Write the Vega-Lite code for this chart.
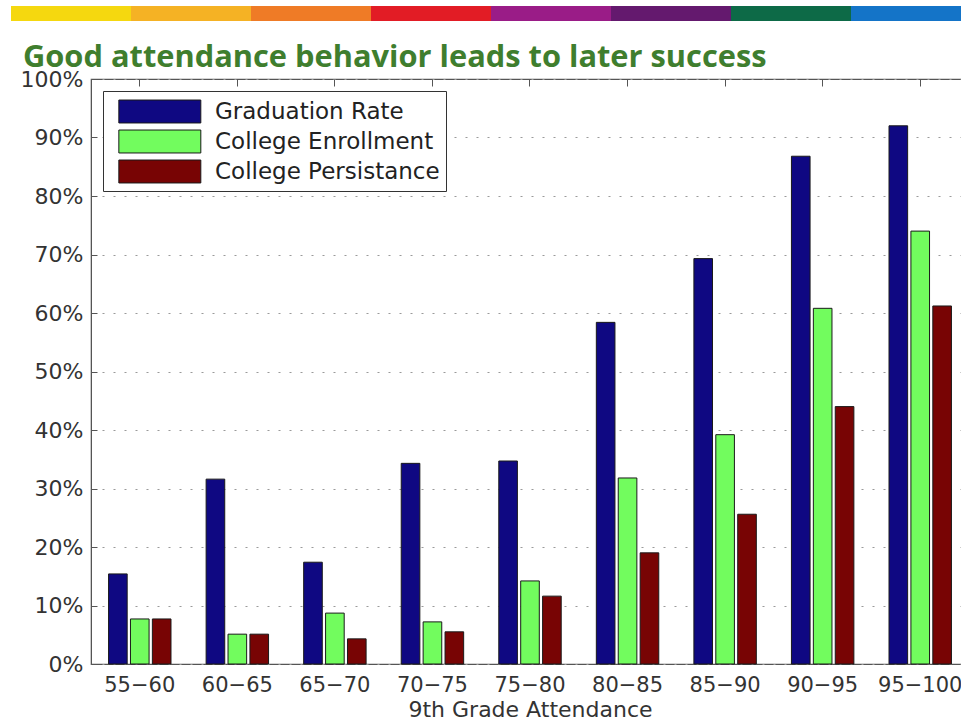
{
  "$schema": "https://vega.github.io/schema/vega-lite/v6.json",
  "background": "white",
  "padding": {"left": 11, "top": 6, "right": 0, "bottom": 0},
  "autosize": {"type": "pad"},
  "columns": 1,
  "align": "none",
  "spacing": 20,
  "resolve": {"legend": {"color": "independent"}, "scale": {"color": "independent", "x": "independent"}},
  "config": {
    "font": "DejaVu Sans",
    "axis": {"labelFont": "DejaVu Sans", "labelColor": "#333333", "titleFont": "DejaVu Sans", "titleColor": "#333333", "titleFontWeight": "normal", "domainColor": "#555555", "tickColor": "#555555"},
    "legend": {"labelFont": "DejaVu Sans"}
  },
  "concat": [
    {
      "width": 870,
      "height": 15,
      "view": {"stroke": null},
      "data": {
        "values": [
          {"band": 1, "color": "#f5d80f"},
          {"band": 2, "color": "#f5b224"},
          {"band": 3, "color": "#ef7b26"},
          {"band": 4, "color": "#e21c25"},
          {"band": 5, "color": "#9a1c87"},
          {"band": 6, "color": "#64196e"},
          {"band": 7, "color": "#0d6a47"},
          {"band": 8, "color": "#1474c8"}
        ]
      },
      "mark": {"type": "rect", "clip": false},
      "encoding": {
        "x": {"field": "band", "type": "ordinal", "axis": null, "scale": {"range": [-80, 880], "paddingInner": 0, "paddingOuter": 0}},
        "color": {"field": "color", "type": "nominal", "scale": null, "legend": null}
      }
    },
    {
      "width": 878,
      "height": 585,
      "view": {"stroke": "#555555", "strokeWidth": 1.2},
      "title": {
        "text": "Good attendance behavior leads to later success",
        "anchor": "start",
        "frame": "group",
        "dx": -68,
        "baseline": "alphabetic",
        "offset": -30,
        "font": "Open Sans",
        "fontSize": 30.8,
        "fontWeight": "bold",
        "color": "#3f7e2e"
      },
      "data": {
        "values": [
          {"attendance": "55−60", "measure": "Graduation Rate", "rate": 15.4},
          {"attendance": "55−60", "measure": "College Enrollment", "rate": 7.7},
          {"attendance": "55−60", "measure": "College Persistance", "rate": 7.7},
          {"attendance": "60−65", "measure": "Graduation Rate", "rate": 31.6},
          {"attendance": "60−65", "measure": "College Enrollment", "rate": 5.1},
          {"attendance": "60−65", "measure": "College Persistance", "rate": 5.1},
          {"attendance": "65−70", "measure": "Graduation Rate", "rate": 17.4},
          {"attendance": "65−70", "measure": "College Enrollment", "rate": 8.7},
          {"attendance": "65−70", "measure": "College Persistance", "rate": 4.3},
          {"attendance": "70−75", "measure": "Graduation Rate", "rate": 34.3},
          {"attendance": "70−75", "measure": "College Enrollment", "rate": 7.2},
          {"attendance": "70−75", "measure": "College Persistance", "rate": 5.5},
          {"attendance": "75−80", "measure": "Graduation Rate", "rate": 34.7},
          {"attendance": "75−80", "measure": "College Enrollment", "rate": 14.2},
          {"attendance": "75−80", "measure": "College Persistance", "rate": 11.6},
          {"attendance": "80−85", "measure": "Graduation Rate", "rate": 58.4},
          {"attendance": "80−85", "measure": "College Enrollment", "rate": 31.8},
          {"attendance": "80−85", "measure": "College Persistance", "rate": 19.0},
          {"attendance": "85−90", "measure": "Graduation Rate", "rate": 69.3},
          {"attendance": "85−90", "measure": "College Enrollment", "rate": 39.2},
          {"attendance": "85−90", "measure": "College Persistance", "rate": 25.6},
          {"attendance": "90−95", "measure": "Graduation Rate", "rate": 86.8},
          {"attendance": "90−95", "measure": "College Enrollment", "rate": 60.8},
          {"attendance": "90−95", "measure": "College Persistance", "rate": 44.0},
          {"attendance": "95−100", "measure": "Graduation Rate", "rate": 92.0},
          {"attendance": "95−100", "measure": "College Enrollment", "rate": 74.0},
          {"attendance": "95−100", "measure": "College Persistance", "rate": 61.2}
        ]
      },
      "resolve": {"axis": {"x": "independent"}},
      "layer": [
        {
          "mark": {"type": "bar", "stroke": "#1a1a1a", "strokeWidth": 1},
          "encoding": {
            "x": {
              "field": "attendance",
              "type": "nominal",
              "sort": null,
              "scale": {"paddingInner": 0.36, "paddingOuter": 0.18},
              "axis": {
                "title": "9th Grade Attendance",
                "titleFontSize": 22,
                "titlePadding": 4,
                "labelFontSize": 21,
                "labelAngle": 0,
                "labelPadding": 10,
                "ticks": false,
                "domain": false
              }
            },
            "xOffset": {
              "field": "measure",
              "type": "nominal",
              "sort": ["Graduation Rate", "College Enrollment", "College Persistance"],
              "scale": {"paddingInner": 0.15}
            },
            "y": {
              "field": "rate",
              "type": "quantitative",
              "scale": {"domain": [0, 100], "nice": false},
              "axis": {
                "title": null,
                "values": [0, 10, 20, 30, 40, 50, 60, 70, 80, 90, 100],
                "labelExpr": "datum.value + '%'",
                "labelFontSize": 22,
                "labelPadding": 14,
                "ticks": true,
                "tickSize": -6,
                "minExtent": 79,
                "grid": true,
                "gridColor": "#9a9a9a",
                "gridDash": [2, 9],
                "gridWidth": 1.2,
                "domainColor": "#555555"
              }
            },
            "color": {
              "field": "measure",
              "type": "nominal",
              "sort": ["Graduation Rate", "College Enrollment", "College Persistance"],
              "scale": {
                "domain": ["Graduation Rate", "College Enrollment", "College Persistance"],
                "range": ["#0f0882", "#72fc5e", "#780404"]
              },
              "legend": {
                "title": null,
                "orient": "top-left",
                "offset": 12,
                "fillColor": "white",
                "strokeColor": "#333333",
                "padding": 6,
                "symbolType": "M-1,-0.84L5,-0.84L5,0.84L-1,0.84Z",
                "symbolSize": 747,
                "symbolStrokeColor": "#1a1a1a",
                "symbolStrokeWidth": 1,
                "symbolOpacity": 1,
                "symbolOffset": 9,
                "labelFontSize": 23,
                "labelColor": "#222222",
                "labelOffset": 68,
                "rowPadding": 2,
                "labelLimit": 400
              }
            }
          }
        },
        {
          "mark": {"type": "point", "opacity": 0},
          "encoding": {
            "x": {
              "field": "attendance",
              "type": "nominal",
              "sort": null,
              "axis": {"orient": "top", "labels": false, "title": null, "domain": false, "ticks": true, "tickSize": -7, "grid": false, "labelPadding": 0, "minExtent": 0, "maxExtent": 1}
            }
          }
        }
      ]
    }
  ]
}
